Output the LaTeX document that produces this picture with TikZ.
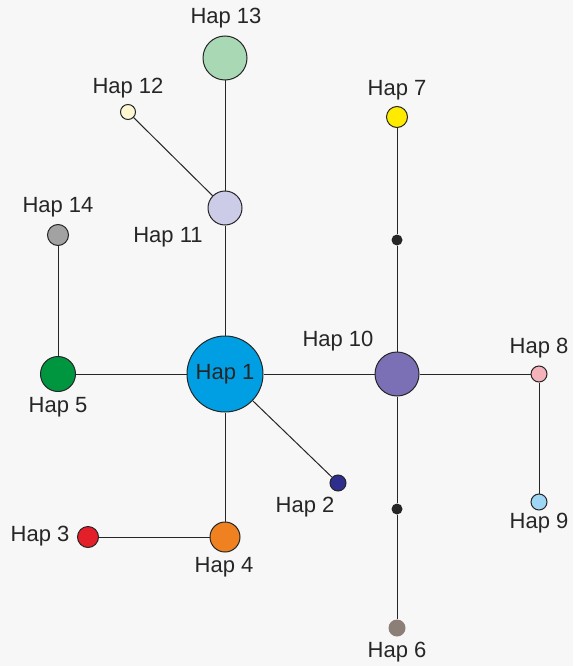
\documentclass[tikz,border=0pt]{standalone}
\usepackage{fontspec}
\setmainfont{Liberation Sans}
\begin{document}
\begin{tikzpicture}[x=1pt,y=-1pt,
  hap/.style={circle,draw=black!85,line width=1pt,inner sep=0pt},
  dotnode/.style={circle,fill=black!85,inner sep=0pt,minimum size=11pt},
  lab/.style={text=black!85,font=\fontsize{22}{25}\selectfont,inner sep=0pt},
  link/.style={draw=black!85,line width=1pt}]
\fill[black!3] (0,0) rectangle (573,666);
\useasboundingbox (0,0) rectangle (573,666);
\definecolor{c13}{HTML}{A8D8B4}
\definecolor{c12}{HTML}{FDF7D2}
\definecolor{c11}{HTML}{CDCCE8}
\definecolor{c14}{HTML}{A2A2A2}
\definecolor{c5}{HTML}{009640}
\definecolor{c1}{HTML}{009FE3}
\definecolor{c10}{HTML}{7B6FB5}
\definecolor{c8}{HTML}{F4B2BA}
\definecolor{c9}{HTML}{A0D6F5}
\definecolor{c3}{HTML}{E3202A}
\definecolor{c4}{HTML}{F08121}
\definecolor{c2}{HTML}{2E2E8E}
\definecolor{c6}{HTML}{8C7F77}
\definecolor{c7}{HTML}{FFEB00}
% nodes
\node[hap,fill=c1,minimum size=76pt] (h1) at (225,374) {};
\node[hap,fill=c13,minimum size=44pt] (h13) at (225,58) {};
\node[hap,fill=c12,minimum size=15pt] (h12) at (128,112) {};
\node[hap,fill=c11,minimum size=34pt] (h11) at (225,208) {};
\node[hap,fill=c14,minimum size=21pt] (h14) at (58,235) {};
\node[hap,fill=c5,minimum size=35pt] (h5) at (58,374) {};
\node[hap,fill=c7,minimum size=21pt] (h7) at (397,117) {};
\node[dotnode] (d1) at (397,240) {};
\node[hap,fill=c10,minimum size=44pt] (h10) at (397,374) {};
\node[hap,fill=c8,minimum size=16pt] (h8) at (539,374) {};
\node[hap,fill=c9,minimum size=16pt] (h9) at (539,502) {};
\node[hap,fill=c2,minimum size=16pt] (h2) at (338,483) {};
\node[hap,fill=c3,minimum size=21pt] (h3) at (88,537) {};
\node[hap,fill=c4,minimum size=30pt] (h4) at (225,537) {};
\node[dotnode] (d2) at (397,509) {};
\node[circle,fill=c6,inner sep=0pt,minimum size=17pt] (h6) at (397,628) {};
% connectors
\draw[link] (h13) -- (h11);
\draw[link] (h12) -- (h11);
\draw[link] (h11) -- (h1);
\draw[link] (h14) -- (h5);
\draw[link] (h5) -- (h1);
\draw[link] (h1) -- (h10);
\draw[link] (h1) -- (h4);
\draw[link] (h1) -- (h2);
\draw[link] (h3) -- (h4);
\draw[link] (h7) -- (d1);
\draw[link] (d1) -- (h10);
\draw[link] (h10) -- (h8);
\draw[link] (h8) -- (h9);
\draw[link] (h10) -- (d2);
\draw[link] (d2) -- (h6);
% labels
\node[lab] (l1) at (h1) {Hap 1};
\node[lab] (l13) at (226,18) {Hap 13};
\node[lab] (l12) at (128,88) {Hap 12};
\node[lab] (l11) at (168,237) {Hap 11};
\node[lab] (l14) at (58,207) {Hap 14};
\node[lab] (l5) at (58,407) {Hap 5};
\node[lab] (l10) at (338,341) {Hap 10};
\node[lab] (l8) at (539,348) {Hap 8};
\node[lab] (l9) at (539,523) {Hap 9};
\node[lab] (l7) at (397,90) {Hap 7};
\node[lab] (l3) at (40,536) {Hap 3};
\node[lab] (l4) at (224,567) {Hap 4};
\node[lab] (l2) at (305,507) {Hap 2};
\node[lab] (l6) at (397,652) {Hap 6};
\end{tikzpicture}
\end{document}
